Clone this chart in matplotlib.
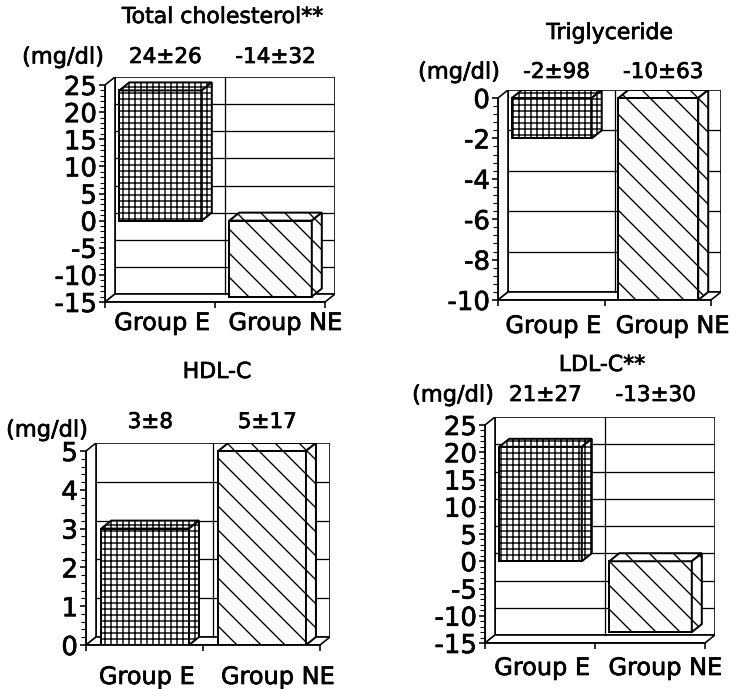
#!/usr/bin/env python3
import numpy as np
import matplotlib
matplotlib.use('Agg')
import matplotlib.pyplot as plt
import matplotlib.patheffects as pe
from matplotlib.patches import Polygon

# Data (mean change, SD) for each group.
groups = ['Group E', 'Group NE']
titles = ['Total cholesterol**', 'Triglyceride', 'HDL-C', 'LDL-C**']

total_chol = [24, -14]
total_chol_sd = [26, 32]
triglyceride = [-2, -10]
triglyceride_sd = [98, 63]
hdl_c = [3, 5]
hdl_c_sd = [8, 17]
ldl_c = [21, -13]
ldl_c_sd = [27, 30]

y_ranges = [(-15, 25), (-10, 0), (0, 5), (-15, 25)]
y_steps = [5, 2, 1, 5]

# Figure size in pixels; at 72 dpi one point is one pixel, which also
# makes the hatch spacing close to the scanned original.
W_PX, H_PX = 736, 689
DPI = 72
DEPTH = (10, 8)
HATCHES = ['++', '\\']
plt.rcParams['hatch.linewidth'] = 1.4

# Slightly heavier text, like the printed figure.
HEAVY = [pe.withStroke(linewidth=0.7, foreground='black')]

# Pixel layout of every panel: front axes box, title, unit label, etc.
LAYOUT = [
    dict(rect=(105, 302, 220, 217), title=(223, 17), unit=(63, 57),
         value_y=57, group_y=323),
    dict(rect=(498, 300, 213, 202), title=(610, 33), unit=(459, 72),
         value_y=72, group_y=326),
    dict(rect=(86, 645, 234, 194), title=(217, 372), unit=(47, 430),
         value_y=422, group_y=677),
    dict(rect=(485, 643, 220, 218), title=(602, 365), unit=(453, 395),
         value_y=395, group_y=668),
]


def draw_panel(fig, lay, title, means, sds, ylim, step):
    left, bottom, width, height = lay['rect']
    dxp, dyp = DEPTH
    ymin, ymax = ylim
    dx = 2 * dxp / width
    dy = (ymax - ymin) * dyp / height

    ax = fig.add_axes([left / W_PX, 1 - bottom / H_PX,
                       (width + dxp) / W_PX, (height + dyp) / H_PX])
    ax.set_xlim(0, 2 + dx)
    ax.set_ylim(ymin, ymax + dy)
    ax.patch.set_visible(False)

    # Back wall, left wall and floor.
    walls = [
        [(dx, ymin + dy), (2 + dx, ymin + dy), (2 + dx, ymax + dy), (dx, ymax + dy)],
        [(0, ymin), (dx, ymin + dy), (dx, ymax + dy), (0, ymax)],
        [(0, ymin), (2, ymin), (2 + dx, ymin + dy), (dx, ymin + dy)],
    ]
    for w in walls:
        ax.add_patch(Polygon(w, closed=True, fc='white', ec='black',
                             lw=1.6, zorder=1))

    # Gridlines on the back wall and the category divider.
    ticks = np.arange(ymin, ymax + step / 2, step)
    for t in ticks[1:-1]:
        ax.plot([dx, 2 + dx], [t + dy, t + dy], color='black', lw=1.3, zorder=1.5)
    ax.plot([1 + dx, 1 + dx], [ymin + dy, ymax + dy], color='black', lw=1.3, zorder=1.5)

    # Bars as front, top and side faces.
    for i, (v, hatch) in enumerate(zip(means, HATCHES)):
        x0, x1 = i + 0.13, i + 0.88
        lo, hi = min(0, v), max(0, v)
        faces = [
            [(x0, lo), (x1, lo), (x1, hi), (x0, hi)],
            [(x0, hi), (x1, hi), (x1 + dx, hi + dy), (x0 + dx, hi + dy)],
            [(x1, lo), (x1 + dx, lo + dy), (x1 + dx, hi + dy), (x1, hi)],
        ]
        for f in faces:
            ax.add_patch(Polygon(f, closed=True, fc='white', ec='black',
                                 lw=2.0, hatch=hatch, zorder=3))

    # Axes lines and ticks.
    ax.spines['top'].set_visible(False)
    ax.spines['right'].set_visible(False)
    ax.spines['left'].set_bounds(ymin, ymax)
    ax.spines['bottom'].set_bounds(0, 2)
    ax.spines['left'].set_linewidth(1.8)
    ax.spines['bottom'].set_linewidth(1.8)
    ax.set_yticks(ticks)
    ax.set_yticklabels([f'{t:g}' for t in ticks], fontsize=26)
    for lbl in ax.get_yticklabels():
        lbl.set_path_effects(HEAVY)
    ax.set_yticks(np.arange(ymin, ymax + step / 10, step / 5), minor=True)
    ax.tick_params(axis='y', which='major', length=6, width=1.6, pad=2)
    ax.tick_params(axis='y', which='minor', length=5, width=1.1)
    ax.set_xticks([0, 1, 2])
    ax.set_xticklabels([])
    ax.tick_params(axis='x', length=6, width=1.6)

    # Texts around the panel.
    fig.text(lay['title'][0] / W_PX, 1 - lay['title'][1] / H_PX, title,
             fontsize=22, ha='center', va='center', path_effects=HEAVY)
    fig.text(lay['unit'][0] / W_PX, 1 - lay['unit'][1] / H_PX, '(mg/dl)',
             fontsize=22.5, ha='center', va='center', path_effects=HEAVY)
    for i, (m, s) in enumerate(zip(means, sds)):
        x = left + (i + 0.55) * width / 2
        fig.text(x / W_PX, 1 - lay['value_y'] / H_PX, f'{m}±{s}',
                 fontsize=21.5, ha='center', va='center', path_effects=HEAVY)
    for i, g in enumerate(groups):
        x = left + (i + 0.52 + 0.12 * i) * width / 2
        fig.text(x / W_PX, 1 - lay['group_y'] / H_PX, g,
                 fontsize=24, ha='center', va='center', path_effects=HEAVY)
    return ax


def main():
    fig = plt.figure(figsize=(W_PX / DPI, H_PX / DPI), dpi=DPI)
    means = [total_chol, triglyceride, hdl_c, ldl_c]
    sds = [total_chol_sd, triglyceride_sd, hdl_c_sd, ldl_c_sd]
    for lay, t, m, s, yr, st in zip(LAYOUT, titles, means, sds, y_ranges, y_steps):
        draw_panel(fig, lay, t, m, s, yr, st)
    fig.savefig('out.png', dpi=DPI)


if __name__ == '__main__':
    main()
